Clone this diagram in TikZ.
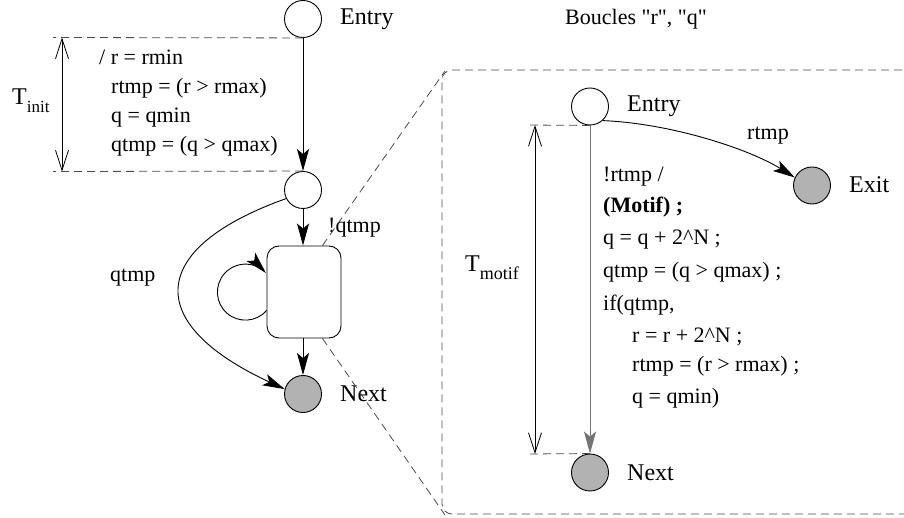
\documentclass[tikz,border=0pt]{standalone}
\usepackage{fontspec}
\setmainfont{Liberation Serif}[Ligatures=TeXOff]
\usetikzlibrary{arrows.meta,calc}
\begin{document}
\begin{tikzpicture}[x=1pt,y=1pt,
  state/.style={circle,draw,line width=0.9pt,minimum size=37pt,inner sep=0pt,fill=white},
  final/.style={state,fill=black!30},
  lbl/.style={anchor=west,inner sep=0pt,font=\fontsize{24}{28}\selectfont},
  code/.style={anchor=west,inner sep=0pt,font=\fontsize{22}{26}\selectfont,text height=15pt,text depth=5pt},
  arr/.style={line width=0.9pt,-{Stealth[length=22pt,width=12pt,inset=5pt]}},
  meas/.style={line width=0.8pt,{Straight Barb[length=20pt,width=13pt]}-{Straight Barb[length=20pt,width=13pt]}},
  dsh/.style={line width=0.8pt,black!70,dash pattern=on 8pt off 5pt},
  tlbl/.style={anchor=base west,inner sep=0pt,font=\fontsize{24}{28}\selectfont},
]
\useasboundingbox (0,0) rectangle (904,517);

% ---------- left part ----------
\node[state] (e1) at (303,498) {};
\node[lbl] (e1l) at (340,498) {Entry};
\node[state] (s2) at (303,327) {};
\node[draw,line width=0.9pt,rounded corners=12pt,minimum width=74pt,minimum height=92pt] (box) at (304,225) {};
\node[final] (n1) at (303,123) {};
\node[lbl] (n1l) at (340,123) {Next};

\coordinate (d1) at (53,479.5);
\coordinate (d2) at (53,345.5);
\coordinate (m1a) at (62,479.5);
\coordinate (m1b) at (62,345.5);
\draw[dsh] (e1.south) -- (d1);
\draw[dsh] (s2.north) -- (d2);
\draw[meas] (m1a) -- (m1b);
\node[tlbl] (tinit) at (12,412) {T\raisebox{-8pt}{\fontsize{17}{19}\selectfont init}};

\node[code] (l1) at (99,457) {/ r = rmin};
\node[code] (l2) at (111,428) {rtmp = (r > rmax)};
\node[code] (l3) at (111,399) {q = qmin};
\node[code] (l4) at (111,370) {qtmp = (q > qmax)};

\draw[arr] (e1.south) -- (s2.north);
\draw[arr] (s2.south) -- (s2.south |- box.north);
\draw[arr] (n1.north |- box.south) -- (n1.north);
\node[code] (nq) at (328,289) {!qtmp};
\draw[arr] ([yshift=-18.5pt]box.west) arc[start angle=-41,end angle=-317,radius=28];
\draw[arr] (s2.207) .. controls (150,270) and (140,195) .. (n1.165);
\node[code] (ql) at (110,240) {qtmp};

% ---------- zoom lines ----------
\coordinate (zt) at (445,446);
\coordinate (zb) at (445,2);
\draw[dsh] ([xshift=-19pt]box.north east) -- (zt);
\draw[dsh] ([xshift=-19pt]box.south east) -- (zb);
\draw[dsh,rounded corners=10pt] (915,447) -- (442,447) -- (442,3) -- (915,3);

% ---------- right part ----------
\node[code,anchor=center] (title) at (636,497) {Boucles "r", "q"};
\node[state] (e2) at (590,410.5) {};
\node[lbl] (e2l) at (627,410.5) {Entry};
\node[final] (x2) at (812,331.5) {};
\node[lbl] (x2l) at (849,332) {Exit};
\node[final] (n2) at (590,44.5) {};
\node[lbl] (n2l) at (627,44.5) {Next};

\coordinate (d3) at (525,392);
\coordinate (d4) at (525,63);
\coordinate (m2a) at (535,392);
\coordinate (m2b) at (535,63);
\draw[dsh] (e2.south) -- (d3);
\draw[dsh] (n2.north) -- (d4);
\draw[meas] (m2a) -- (m2b);
\node[tlbl] (tmotif) at (465,245) {T\raisebox{-8pt}{\fontsize{18}{20}\selectfont motif}};

\draw[arr,draw=black!55] (e2.south) -- (n2.north);
\draw[arr] (e2.-48) .. controls +(70,-3) and +(-45,28) .. (x2.155);
\node[code] (rl) at (747,382) {rtmp};

\node[code] (c1) at (603,340) {!rtmp /};
\node[code] (c2) at (603,309) {\bfseries (Motif) ;};
\node[code] (c3) at (603,277) {q = q + 2\textasciicircum N ;};
\node[code] (c4) at (603,244) {qtmp = (q > qmax) ;};
\node[code] (c5) at (603,212) {if(qtmp,};
\node[code] (c6) at (632,180) {r = r + 2\textasciicircum N ;};
\node[code] (c7) at (632,151) {rtmp = (r > rmax) ;};
\node[code] (c8) at (632,119) {q = qmin)};
\end{tikzpicture}
\end{document}
